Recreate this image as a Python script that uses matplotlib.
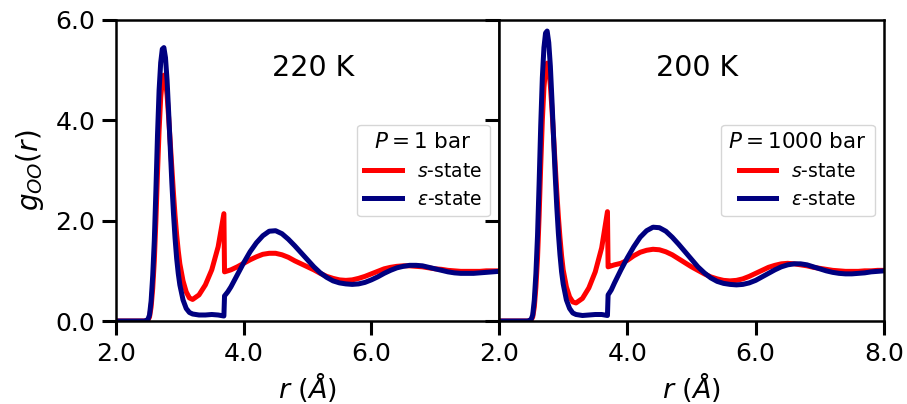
import matplotlib
matplotlib.use("Agg")
import matplotlib.pyplot as plt
from matplotlib.ticker import FormatStrFormatter

# ---------------- data ----------------
r = [2.00, 2.40, 2.45,
     2.500, 2.525, 2.550, 2.575, 2.600, 2.625, 2.650, 2.675, 2.700, 2.725, 2.750,
     2.775, 2.800, 2.825, 2.850, 2.875, 2.900, 2.925, 2.950, 2.975, 3.000,
     3.05, 3.10, 3.15, 3.20, 3.30, 3.40, 3.50, 3.60, 3.69, 3.70, 3.75, 3.80,
     3.90, 4.00, 4.10, 4.20, 4.30, 4.40, 4.50, 4.60, 4.70, 4.80, 4.90, 5.00, 5.10,
     5.20, 5.30, 5.40, 5.50, 5.60, 5.70, 5.80, 5.90, 6.00, 6.10, 6.20, 6.30, 6.40,
     6.50, 6.60, 6.70, 6.80, 6.90, 7.00, 7.10, 7.20, 7.30, 7.40, 7.50, 7.60, 7.70,
     7.80, 7.90, 8.00]

# 220 K, P = 1 bar
s_220 = [0.00, 0.00, 0.00,
         0.02, 0.08, 0.28, 0.65, 1.20, 2.00, 2.95, 3.80, 4.45, 4.80, 4.90,
         4.80, 4.50, 4.05, 3.55, 3.05, 2.55, 2.10, 1.72, 1.40, 1.14,
         0.80, 0.58, 0.46, 0.43, 0.52, 0.72, 1.02, 1.48, 2.14, 0.98, 1.00, 1.02,
         1.08, 1.15, 1.22, 1.28, 1.33, 1.35, 1.35, 1.32, 1.27, 1.20, 1.14, 1.08, 1.02,
         0.95, 0.89, 0.85, 0.82, 0.81, 0.82, 0.85, 0.89, 0.94, 0.99, 1.04, 1.07, 1.09,
         1.10, 1.10, 1.09, 1.08, 1.06, 1.04, 1.03, 1.01, 1.00, 0.99, 0.99, 0.99, 0.99,
         1.00, 1.00, 1.00]
e_220 = [0.00, 0.00, 0.00,
         0.03, 0.12, 0.40, 0.90, 1.60, 2.60, 3.70, 4.60, 5.15, 5.42, 5.45,
         5.25, 4.80, 4.15, 3.45, 2.75, 2.15, 1.65, 1.25, 0.95, 0.72,
         0.42, 0.25, 0.17, 0.14, 0.12, 0.12, 0.13, 0.12, 0.10, 0.50, 0.58, 0.68,
         0.92, 1.16, 1.38, 1.56, 1.70, 1.79, 1.80, 1.74, 1.63, 1.50, 1.36, 1.22, 1.08,
         0.96, 0.87, 0.80, 0.76, 0.74, 0.73, 0.74, 0.77, 0.82, 0.88, 0.95, 1.01, 1.06,
         1.09, 1.11, 1.11, 1.10, 1.07, 1.04, 1.01, 0.98, 0.96, 0.95, 0.95, 0.95, 0.96,
         0.97, 0.98, 0.99]

# 200 K, P = 1000 bar
s_200 = [0.00, 0.00, 0.00,
         0.02, 0.08, 0.28, 0.68, 1.25, 2.10, 3.10, 4.00, 4.65, 5.02, 5.14,
         5.02, 4.70, 4.22, 3.68, 3.12, 2.58, 2.08, 1.66, 1.30, 1.02,
         0.68, 0.48, 0.38, 0.36, 0.45, 0.66, 0.98, 1.46, 2.18, 1.08, 1.10, 1.12,
         1.15, 1.21, 1.30, 1.37, 1.41, 1.43, 1.42, 1.38, 1.32, 1.24, 1.16, 1.08, 1.01,
         0.94, 0.88, 0.84, 0.81, 0.80, 0.81, 0.84, 0.89, 0.95, 1.01, 1.07, 1.11, 1.14,
         1.15, 1.14, 1.12, 1.10, 1.07, 1.05, 1.03, 1.01, 1.00, 0.99, 0.99, 0.99, 1.00,
         1.00, 1.01, 1.01]
e_200 = [0.00, 0.00, 0.00,
         0.03, 0.12, 0.42, 0.95, 1.70, 2.75, 3.90, 4.85, 5.45, 5.74, 5.78,
         5.55, 5.08, 4.40, 3.65, 2.92, 2.28, 1.75, 1.32, 0.98, 0.74,
         0.42, 0.25, 0.16, 0.13, 0.11, 0.12, 0.13, 0.13, 0.11, 0.52, 0.62, 0.76,
         1.02, 1.26, 1.48, 1.67, 1.80, 1.87, 1.86, 1.79, 1.67, 1.53, 1.38, 1.23, 1.08,
         0.96, 0.86, 0.79, 0.75, 0.73, 0.72, 0.73, 0.76, 0.81, 0.88, 0.95, 1.02, 1.08,
         1.12, 1.14, 1.14, 1.12, 1.08, 1.04, 1.00, 0.97, 0.95, 0.94, 0.94, 0.95, 0.96,
         0.98, 0.99, 1.00]

temps = ["220 K", "200 K"]
pressures = [r"$P = 1$ bar", r"$P = 1000$ bar"]
series_labels = [r"$s$-state", r"$\epsilon$-state"]
xticks_left = [2.0, 4.0, 6.0]
xticks_right = [2.0, 4.0, 6.0, 8.0]
yticks = [0.0, 2.0, 4.0, 6.0]

# ---------------- plotting ----------------
plt.rcParams['font.family'] = ['DejaVu Sans']
fig = plt.figure(figsize=(9.07, 4.04), dpi=100)
axL = fig.add_axes([0.1279, 0.2054, 0.4223, 0.7451])
axR = fig.add_axes([0.5502, 0.2054, 0.4244, 0.7451], sharey=axL)

panels = [(axL, s_220, e_220, temps[0], pressures[0], xticks_left),
          (axR, s_200, e_200, temps[1], pressures[1], xticks_right)]

for ax, s, e, t, p, xt in panels:
    ax.plot(r, s, color='red', lw=3.6, label=series_labels[0])
    ax.plot(r, e, color='navy', lw=3.6, label=series_labels[1])
    ax.set_xlim(2.0, 8.0)
    ax.set_ylim(0.0, 6.0)
    ax.set_xticks(xt)
    ax.set_yticks(yticks)
    ax.xaxis.set_major_formatter(FormatStrFormatter('%.1f'))
    ax.yaxis.set_major_formatter(FormatStrFormatter('%.1f'))
    ax.tick_params(direction='out', length=10, width=2.2, labelsize=18, pad=5)
    for sp in ax.spines.values():
        sp.set_linewidth(1.8)
    ax.set_xlabel(r"$r$ ($\AA$)", fontsize=19.5, labelpad=3)
    ax.text(0.515, 0.84, t, transform=ax.transAxes, fontsize=20.5,
            ha='center', va='center')
    leg = ax.legend(loc='center right', title=p, fontsize=13.5,
                    title_fontsize=15.5, handlelength=2.0, borderaxespad=0.5)

axL.set_ylabel(r"$g_{OO}(r)$", fontsize=20, labelpad=7)
axR.tick_params(axis='y', labelleft=False)

fig.savefig("out.png", dpi=100)
